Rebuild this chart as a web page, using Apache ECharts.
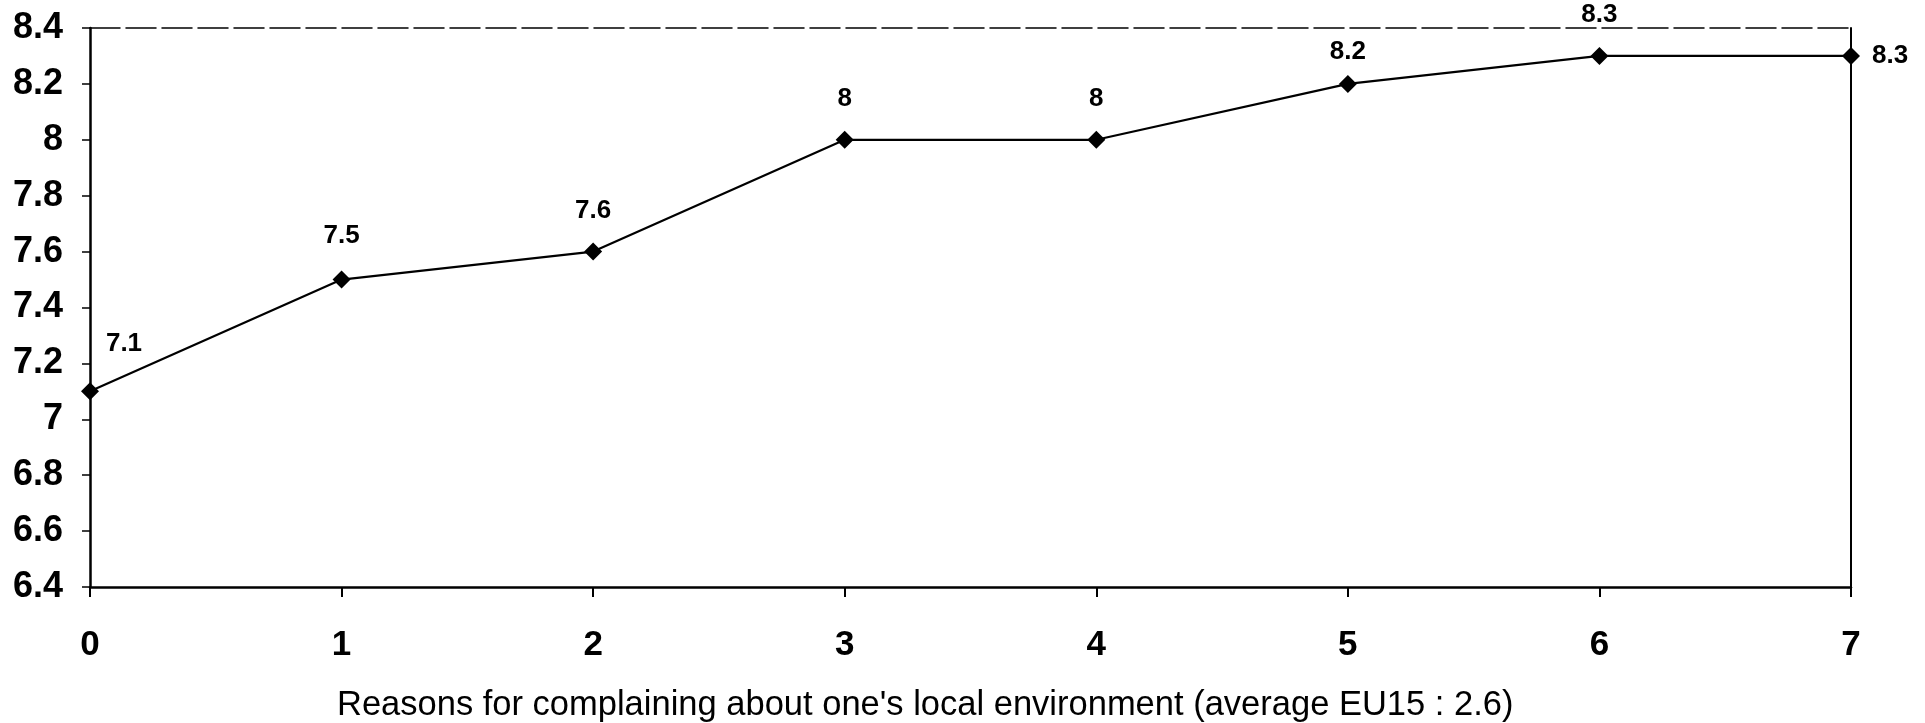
<!DOCTYPE html>
<html>
<head>
<meta charset="utf-8">
<script src="https://cdn.jsdelivr.net/npm/echarts@6/dist/echarts.min.js"></script>
<style>html,body{margin:0;padding:0;background:#fff}#c{width:1925px;height:723px}</style>
</head>
<body>
<div id="c"></div>
<script>
var categories = ['0','1','2','3','4','5','6','7'];
var values = [7.1, 7.5, 7.6, 8, 8, 8.2, 8.3, 8.3];
var yTicks = [6.4, 6.6, 6.8, 7, 7.2, 7.4, 7.6, 7.8, 8, 8.2, 8.4];
var axisTitle = "Reasons for complaining about one's local environment (average EU15 : 2.6)";

var chart = echarts.init(document.getElementById('c'), null, {renderer:'canvas'});
var labelFont = {fontFamily:'Liberation Sans, Arial, sans-serif', fontWeight:'bold', color:'#000'};
var dataPts = values.map(function(v, i){
  var lab = {};
  if (i === 0) { lab = {position:'top', offset:[34, -7]}; }
  else if (i === 1) { lab = {offset:[0, -3]}; }
  else if (i === 5) { lab = {offset:[0, 9]}; }
  else if (i === values.length - 1) { lab = {position:'right', distance:12}; }
  return {value:v, label:lab};
});
chart.setOption({
  animation:false,
  grid:{left:90, right:74, top:28, bottom:136, show:false},
  title:{text:axisTitle, left:332, top:683,
    textStyle:{fontFamily:'Liberation Sans, Arial, sans-serif', fontWeight:'normal', fontSize:34.5, color:'#000'}},
  xAxis:[{
    type:'category', data:categories, boundaryGap:false,
    axisLine:{lineStyle:{color:'#000', width:2.5}},
    axisTick:{show:true, length:10, alignWithLabel:true, lineStyle:{color:'#000', width:2}},
    axisLabel:Object.assign({fontSize:35, margin:41}, labelFont),
    splitLine:{show:false}
  },{
    type:'category', data:categories, boundaryGap:false, position:'top',
    axisLine:{lineStyle:{color:'#000', width:1.5, type:[30,6]}},
    axisTick:{show:false}, axisLabel:{show:false}
  }],
  yAxis:[{
    type:'value', min:6.4, max:8.4, interval:0.2,
    axisLine:{show:true, lineStyle:{color:'#000', width:2.5}},
    axisTick:{show:true, length:8, lineStyle:{color:'#000', width:1.5}},
    axisLabel:Object.assign({fontSize:36, margin:27, formatter:function(v){return String(Math.round(v*10)/10);}}, labelFont),
    splitLine:{show:false}
  },{
    type:'value', min:6.4, max:8.4, interval:0.2, position:'right',
    axisLine:{show:true, lineStyle:{color:'#000', width:2}},
    axisTick:{show:false}, axisLabel:{show:false}, splitLine:{show:false}
  }],
  series:[{
    type:'line', data:dataPts,
    symbol:'diamond', symbolSize:18,
    lineStyle:{color:'#000', width:2.2},
    itemStyle:{color:'#000'},
    label:Object.assign({show:true, position:'top', distance:19, fontSize:26}, labelFont)
  }]
});
</script>
</body>
</html>
